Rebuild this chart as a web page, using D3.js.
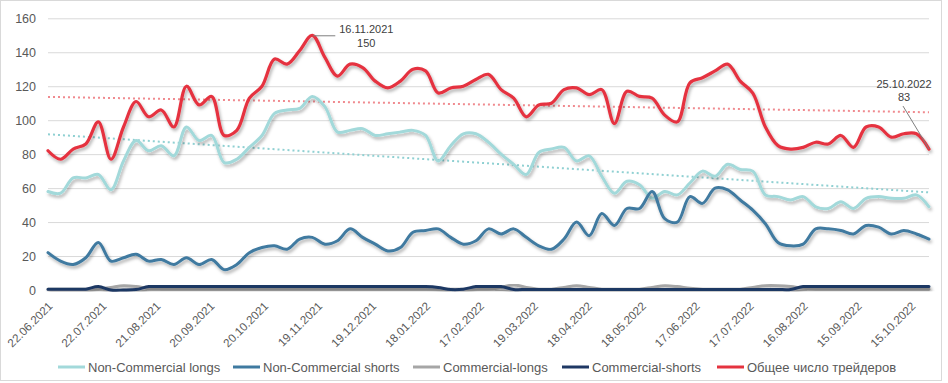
<!DOCTYPE html>
<html>
<head>
<meta charset="utf-8">
<script src="https://cdn.jsdelivr.net/npm/d3@7"></script>
<style>
  html, body { margin: 0; padding: 0; background: #fff; }
  svg { display: block; font-family: "Liberation Sans", Arial, sans-serif; }
</style>
</head>
<body>
<svg id="chart" width="948" height="383"></svg>
<script>
// ---- data ----
const startDate = "22.06.2021";
const weekCount = 71; // weekly reports 22.06.2021 .. 25.10.2022

const seriesNames = ["Non-Commercial longs", "Non-Commercial shorts", "Commercial-longs", "Commercial-shorts", "Общее число трейдеров"];

const nonCommercialLongs = [58,57,66,66,68,59,76,88,82,85,79,96,88,91,75,77,84,91,104,106,107,114,108,93,94,95,91,92,93,94,91,76,85,92,92,87,80,74,68,81,83,84,76,79,67,57,64,62,54,58,56,63,70,67,74,71,70,56,55,53,55,49,48,52,48,54,55,54,54,56,49];
const nonCommercialShorts = [22,17,15,19,28,17,19,21,17,18,15,19,15,18,12,15,22,25,26,24,30,31,27,29,36,31,27,23,25,34,35,36,31,27,29,36,33,36,31,26,24,30,40,32,45,38,48,48,58,42,40,55,51,60,59,53,47,39,28,26,27,36,36,35,33,38,37,33,35,33,30];
const commercialLongs = [0.5,0.5,0.5,0.5,0.5,1.5,2.5,2,0.8,0.5,0.5,0.5,0.5,0.5,0.5,0.5,0.5,0.5,0.5,0.5,0.5,0.5,0.5,0.5,0.5,0.5,0.5,0.5,0.5,0.5,0.5,0.5,0.5,0.5,0.5,0.5,1.5,3,1.5,0.5,0.5,1.5,2.5,1.5,0.5,0.5,0.5,0.5,1.5,2.5,2,1,0.5,0.5,0.5,0.5,1.5,2.5,2.5,2,1,0.5,0.5,0.5,0.5,0.5,0.5,0.5,0.5,0.5,0.5];
const commercialShorts = [0.5,0.5,0.5,0.5,2,0,0,0.3,2,2,2,2,2,2,2,2,2,2,2,2,2,2,2,2,2,2,2,2,2,2,2,1.5,0.3,0.5,2,2,2,0.3,0.3,0.3,0.3,0.3,0.3,0.3,0.3,0.3,0.3,0.3,0.3,0.3,0.3,0.3,0.3,0.3,0.3,0.3,0.3,0.3,0.3,0.3,2,2,2,2,2,2,2,2,2,2,2];
const totalTraders = [82,77,83,86,99,77,96,111,102,106,96,120,109,114,91,94,113,120,136,133,141,150,137,126,133,131,123,119,123,130,129,116,119,120,124,127,118,113,102,109,110,118,119,115,118,98,117,114,113,103,99,122,125,129,133,123,116,96,85,83,84,87,86,91,84,96,96,90,92,92,83];

const xTickLabels = ["22.06.2021","22.07.2021","21.08.2021","20.09.2021","20.10.2021","19.11.2021","19.12.2021","18.01.2022","17.02.2022","19.03.2022","18.04.2022","18.05.2022","17.06.2022","17.07.2022","16.08.2022","15.09.2022","15.10.2022"];
const yTicks = [0,20,40,60,80,100,120,140,160];

const annotations = [
  { label: "16.11.2021", value: "150", index: 21 },
  { label: "25.10.2022", value: "83", index: 70 }
];

(function draw() {
  const parse = d3.timeParse("%d.%m.%Y");
  const t0 = parse(startDate);
  const dates = d3.range(weekCount).map(i => d3.timeDay.offset(t0, 7 * i));

  const svg = d3.select("#chart");
  const pLeft = 48, pRight = 929, pTop = 18.3, pBottom = 290;

  const x = d3.scaleTime().domain([dates[0], dates[dates.length - 1]]).range([pLeft, pRight]);
  const y = d3.scaleLinear().domain([0, 160]).range([pBottom, pTop]);

  // outer border
  svg.append("rect").attr("x", 0.5).attr("y", 0.5).attr("width", 941).attr("height", 380)
    .attr("fill", "#fff").attr("stroke", "#d9d9d9");

  // shadow filter
  const defs = svg.append("defs");
  const f = defs.append("filter").attr("id", "shadow").attr("x", "-5%").attr("y", "-20%").attr("width", "110%").attr("height", "140%");
  f.append("feDropShadow").attr("dx", 1.5).attr("dy", 2.5).attr("stdDeviation", 1.5)
    .attr("flood-color", "#000").attr("flood-opacity", 0.3);

  // gridlines + y labels
  const yAxis = d3.axisLeft(y).tickValues(yTicks).tickSize(-(pRight - pLeft)).tickPadding(12);
  const gy = svg.append("g").attr("transform", `translate(${pLeft},0)`).call(yAxis);
  gy.select(".domain").remove();
  gy.selectAll(".tick line").attr("stroke", "#d9d9d9").attr("stroke-width", 1);
  gy.selectAll(".tick text").attr("fill", "#595959").style("font-size", "12.5px")
    .style("font-family", "'Liberation Sans', Arial, sans-serif");

  // x axis labels
  const tickDates = xTickLabels.map(parse);
  const xAxis = d3.axisBottom(x).tickValues(tickDates).tickFormat(d3.timeFormat("%d.%m.%Y")).tickSize(0);
  const gx = svg.append("g").attr("transform", `translate(0,${pBottom})`).call(xAxis);
  gx.select(".domain").remove();
  gx.selectAll(".tick text")
    .attr("fill", "#595959").style("font-size", "11.6px")
    .style("font-family", "'Liberation Sans', Arial, sans-serif")
    .attr("text-anchor", "end")
    .attr("dy", "0.35em").attr("y", 0)
    .attr("transform", "translate(2,14) rotate(-45)");

  // trendlines (linear regression over the series)
  function trend(vals) {
    const n = vals.length;
    const xs = d3.range(n);
    const mx = d3.mean(xs), my = d3.mean(vals);
    const b = d3.sum(xs, i => (i - mx) * (vals[i] - my)) / d3.sum(xs, i => (i - mx) * (i - mx));
    const a = my - b * mx;
    return [[dates[0], a], [dates[n - 1], a + b * (n - 1)]];
  }
  const trendLine = d3.line().x(d => x(d[0])).y(d => y(d[1]));
  svg.append("path").attr("d", trendLine(trend(totalTraders)))
    .attr("fill", "none").attr("stroke", "#f08a8f").attr("stroke-width", 2)
    .attr("stroke-dasharray", "2,3");
  svg.append("path").attr("d", trendLine(trend(nonCommercialLongs)))
    .attr("fill", "none").attr("stroke", "#8fd0d2").attr("stroke-width", 2)
    .attr("stroke-dasharray", "2,3");

  // series lines
  const series = [
    { name: seriesNames[0], values: nonCommercialLongs, color: "#a2d9da", width: 3 },
    { name: seriesNames[1], values: nonCommercialShorts, color: "#3f7aa0", width: 3 },
    { name: seriesNames[2], values: commercialLongs, color: "#a6a6a6", width: 3 },
    { name: seriesNames[3], values: commercialShorts, color: "#1f3864", width: 3 },
    { name: seriesNames[4], values: totalTraders, color: "#e5333f", width: 3.2 }
  ];
  const line = d3.line().x((d, i) => x(dates[i])).y(d => y(d)).curve(d3.curveCatmullRom.alpha(0.5));
  svg.append("g").selectAll("path").data(series).join("path")
    .attr("d", s => line(s.values))
    .attr("fill", "none")
    .attr("stroke", s => s.color)
    .attr("stroke-width", s => s.width)
    .attr("stroke-linejoin", "round")
    .attr("stroke-linecap", "round")
    .attr("filter", "url(#shadow)");

  // annotations
  const ann = svg.append("g").style("font-family", "'Liberation Sans', Arial, sans-serif");
  {
    const a = annotations[0];
    const px = x(dates[a.index]), py = y(totalTraders[a.index]);
    ann.append("line").attr("x1", px + 1).attr("y1", py + 0.5).attr("x2", px + 23).attr("y2", py + 0.5)
      .attr("stroke", "#7f7f7f").attr("stroke-width", 1);
    ann.append("text").attr("x", px + 54).attr("y", py - 2).attr("text-anchor", "middle")
      .attr("fill", "#404040").style("font-size", "11px").text(a.label);
    ann.append("text").attr("x", px + 54).attr("y", py + 11.5).attr("text-anchor", "middle")
      .attr("fill", "#404040").style("font-size", "11px").text(a.value);
  }
  {
    const a = annotations[1];
    const px = x(dates[a.index]), py = y(totalTraders[a.index]);
    ann.append("line").attr("x1", px).attr("y1", py).attr("x2", px - 26).attr("y2", py - 43)
      .attr("stroke", "#7f7f7f").attr("stroke-width", 1);
    ann.append("text").attr("x", px - 25).attr("y", py - 61).attr("text-anchor", "middle")
      .attr("fill", "#404040").style("font-size", "11px").text(a.label);
    ann.append("text").attr("x", px - 25).attr("y", py - 48).attr("text-anchor", "middle")
      .attr("fill", "#404040").style("font-size", "11px").text(a.value);
  }

  // legend
  const legendX = [58, 233, 413, 562, 717];
  const lg = svg.append("g").attr("transform", "translate(0,367)");
  const items = lg.selectAll("g").data(series).join("g").attr("transform", (d, i) => `translate(${legendX[i]},0)`);
  items.append("line").attr("x1", 0).attr("x2", 27).attr("y1", 0).attr("y2", 0)
    .attr("stroke", d => d.color).attr("stroke-width", 3);
  items.append("text").attr("x", 30).attr("y", 0).attr("dy", "0.35em")
    .attr("fill", "#595959").style("font-size", "13px").text(d => d.name);
})();
</script>
</body>
</html>
